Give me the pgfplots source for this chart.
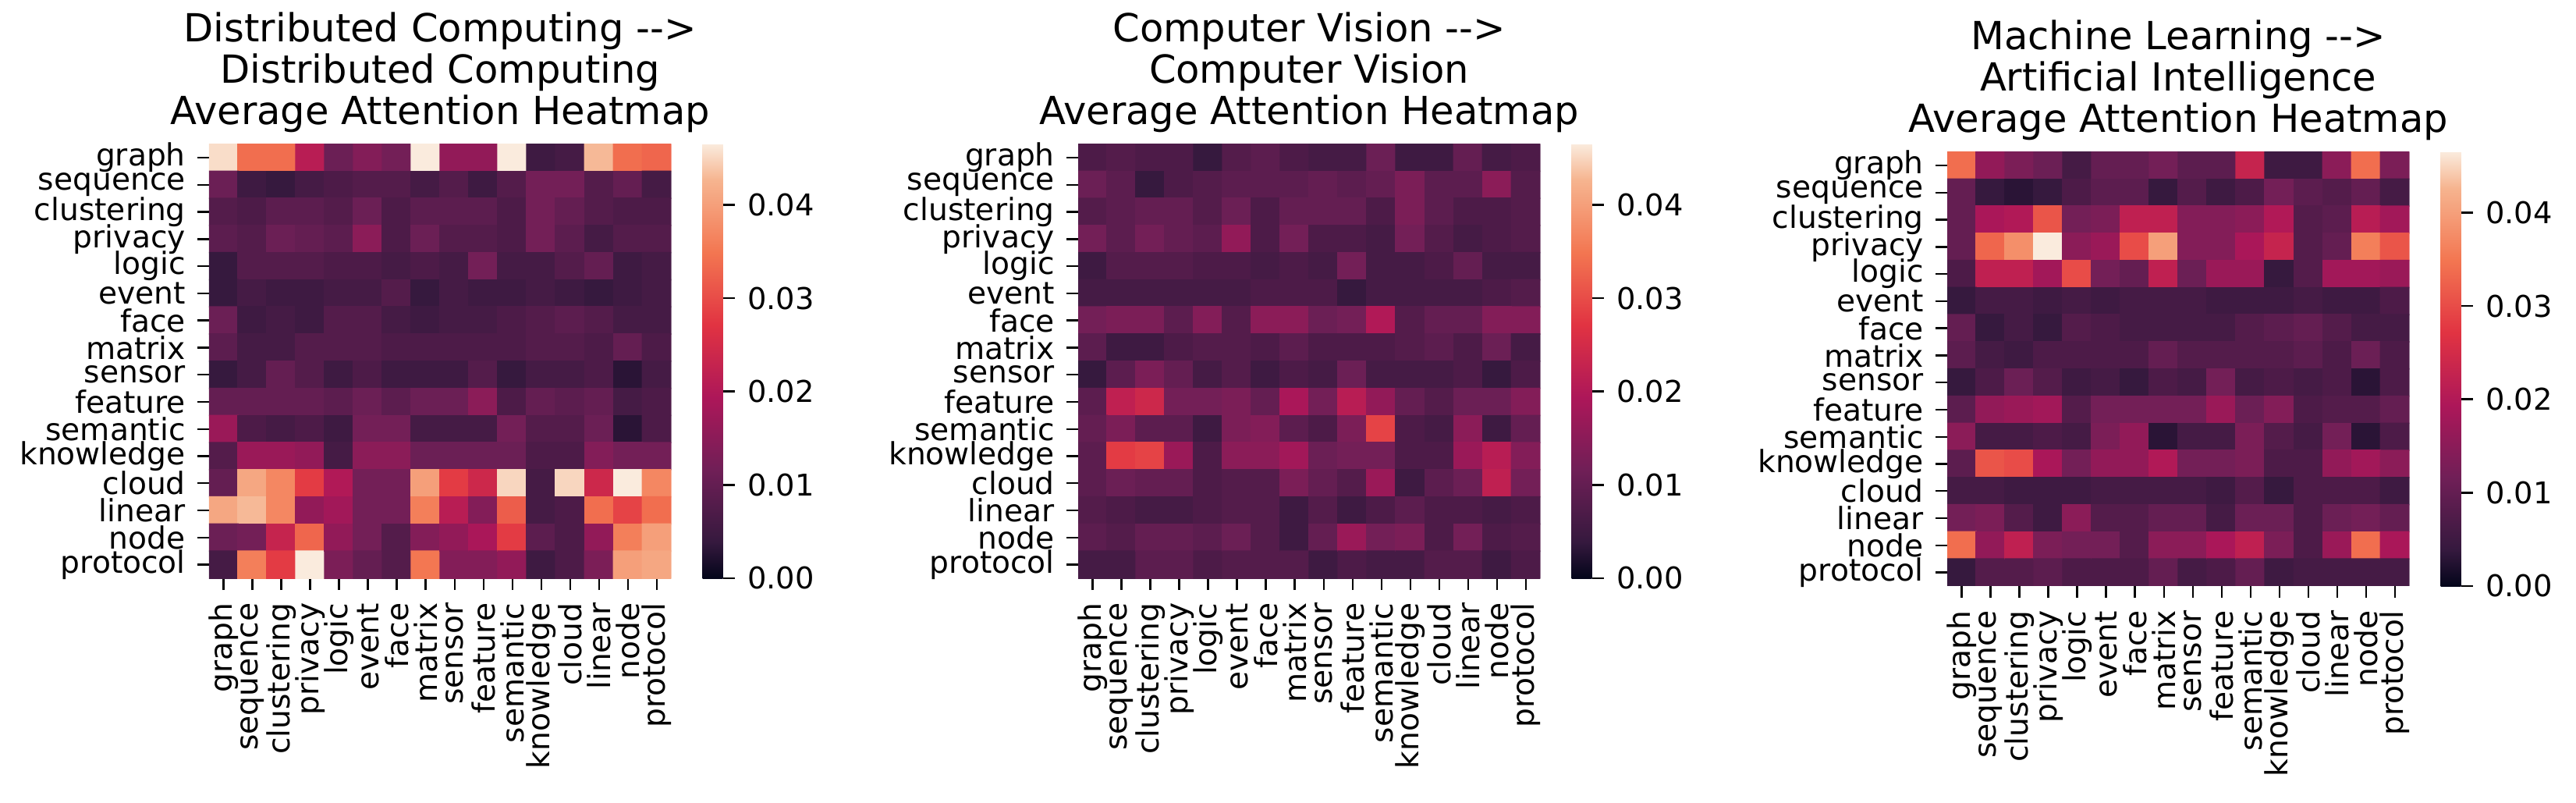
\documentclass[border=0pt]{standalone}
\usepackage{fontspec}
\setmainfont{DejaVu Sans}
\usepackage{pgfplots}
\pgfplotsset{compat=1.18}
\pgfplotsset{
  colormap={rocket}{rgb255(0cm)=(3,5,26); rgb255(1cm)=(53,25,62); rgb255(3cm)=(112,31,87); rgb255(5cm)=(173,23,89); rgb255(7cm)=(225,51,66); rgb255(9cm)=(243,118,81); rgb255(11cm)=(246,180,143); rgb255(12cm)=(250,235,221)},
  hm/.style={
    scale only axis, width=148.1pt, height=139.1pt, anchor=south west,
    xmin=-0.5, xmax=15.5, ymin=-0.5, ymax=15.5,
    axis line style={draw=none},
    tick align=outside, xtick pos=lower, ytick pos=left,
    major tick length=3.75pt,
    tick style={black, line width=0.6pt},
    xtick={0,...,15}, ytick={0,...,15},
    xticklabels={graph,sequence,clustering,privacy,logic,event,face,matrix,sensor,feature,semantic,knowledge,cloud,linear,node,protocol},
    yticklabels={protocol,node,linear,cloud,knowledge,semantic,feature,sensor,matrix,face,event,logic,privacy,clustering,sequence,graph},
    tick label style={font=\fontsize{9.8}{10}\selectfont},
    x tick label style={rotate=90, anchor=east, inner xsep=4pt},
    y tick label style={inner xsep=3.6pt},
    colormap name=rocket,
    point meta min=0, point meta max=0.0465,
    title style={align=center, font=\fontsize{12.4}{13.2}\selectfont, yshift=-5.8pt},
    colorbar,
    colorbar style={
      scale only axis, width=6.5pt, height=139.1pt,
      at={(parent axis.north east)}, anchor=north west, xshift=1.5pt,
      axis line style={draw=none},
      ytick={0,0.01,0.02,0.03,0.04},
      scaled y ticks=false,
      tick align=outside, ytick pos=right, yticklabel pos=right,
      major tick length=3.75pt,
      tick style={black, line width=0.6pt},
      yticklabel style={inner xsep=4pt, font=\fontsize{9.6}{10}\selectfont, /pgf/number format/fixed, /pgf/number format/fixed zerofill, /pgf/number format/precision=2, /pgf/number format/assume math mode=true},
    },
  },
  hmdata/.style={matrix plot*, mesh/cols=16, mesh/ordering=x varies, point meta=\thisrowno{0},
    table/header=false, table/row sep=\\, table/x expr={mod(\coordindex,16)}, table/y expr={15-floor((\coordindex+0.5)/16)}},
}
\begin{document}
\begin{tikzpicture}
\path[use as bounding box] (0,0) rectangle (825.5pt,257.25pt);
\begin{axis}[hm, at={(67pt,72pt)}, title={Distributed Computing -{}->\\Distributed Computing\\Average Attention Heatmap}]
\addplot[hmdata] table {
0.0455\\0.034\\0.034\\0.021\\0.011\\0.014\\0.012\\0.0465\\0.016\\0.016\\0.0465\\0.005\\0.006\\0.043\\0.034\\0.033\\
0.011\\0.005\\0.004\\0.006\\0.007\\0.008\\0.008\\0.006\\0.008\\0.005\\0.008\\0.012\\0.012\\0.008\\0.010\\0.006\\
0.008\\0.007\\0.009\\0.009\\0.008\\0.011\\0.007\\0.009\\0.009\\0.009\\0.007\\0.012\\0.010\\0.008\\0.007\\0.007\\
0.009\\0.008\\0.011\\0.010\\0.009\\0.015\\0.007\\0.011\\0.008\\0.008\\0.007\\0.012\\0.009\\0.006\\0.008\\0.008\\
0.004\\0.008\\0.008\\0.008\\0.007\\0.007\\0.006\\0.007\\0.006\\0.012\\0.006\\0.006\\0.008\\0.010\\0.005\\0.006\\
0.004\\0.006\\0.005\\0.005\\0.006\\0.006\\0.008\\0.004\\0.006\\0.005\\0.005\\0.006\\0.005\\0.004\\0.005\\0.006\\
0.011\\0.005\\0.006\\0.005\\0.008\\0.008\\0.006\\0.005\\0.006\\0.006\\0.007\\0.008\\0.009\\0.008\\0.006\\0.006\\
0.009\\0.006\\0.006\\0.008\\0.008\\0.008\\0.007\\0.007\\0.007\\0.007\\0.007\\0.008\\0.008\\0.007\\0.010\\0.007\\
0.004\\0.006\\0.010\\0.008\\0.005\\0.007\\0.005\\0.005\\0.005\\0.008\\0.004\\0.006\\0.006\\0.007\\0.003\\0.006\\
0.010\\0.010\\0.010\\0.010\\0.009\\0.011\\0.009\\0.011\\0.011\\0.015\\0.007\\0.010\\0.009\\0.010\\0.006\\0.007\\
0.017\\0.007\\0.006\\0.007\\0.005\\0.012\\0.012\\0.006\\0.006\\0.006\\0.012\\0.008\\0.008\\0.011\\0.003\\0.007\\
0.008\\0.017\\0.017\\0.016\\0.006\\0.015\\0.015\\0.011\\0.011\\0.011\\0.011\\0.007\\0.007\\0.014\\0.012\\0.012\\
0.010\\0.041\\0.037\\0.028\\0.020\\0.012\\0.012\\0.040\\0.028\\0.024\\0.045\\0.006\\0.045\\0.024\\0.0465\\0.037\\
0.041\\0.043\\0.037\\0.016\\0.018\\0.012\\0.012\\0.036\\0.021\\0.014\\0.032\\0.006\\0.007\\0.034\\0.029\\0.034\\
0.011\\0.012\\0.023\\0.033\\0.016\\0.012\\0.008\\0.014\\0.016\\0.019\\0.028\\0.009\\0.007\\0.016\\0.036\\0.040\\
0.006\\0.036\\0.028\\0.0465\\0.013\\0.010\\0.008\\0.035\\0.014\\0.014\\0.016\\0.005\\0.007\\0.013\\0.040\\0.041\\
};
\end{axis}
\begin{axis}[hm, at={(345.5pt,72pt)}, title={Computer Vision -{}->\\Computer Vision\\Average Attention Heatmap}]
\addplot[hmdata] table {
0.007\\0.008\\0.007\\0.007\\0.004\\0.008\\0.009\\0.007\\0.006\\0.006\\0.011\\0.005\\0.005\\0.010\\0.006\\0.007\\
0.011\\0.009\\0.004\\0.007\\0.008\\0.009\\0.009\\0.009\\0.010\\0.009\\0.010\\0.013\\0.009\\0.009\\0.015\\0.008\\
0.008\\0.009\\0.010\\0.010\\0.008\\0.011\\0.007\\0.010\\0.010\\0.010\\0.007\\0.013\\0.009\\0.007\\0.007\\0.008\\
0.012\\0.009\\0.012\\0.010\\0.009\\0.016\\0.007\\0.012\\0.007\\0.007\\0.006\\0.012\\0.008\\0.006\\0.007\\0.008\\
0.005\\0.008\\0.008\\0.008\\0.007\\0.007\\0.006\\0.007\\0.006\\0.012\\0.006\\0.006\\0.007\\0.010\\0.006\\0.006\\
0.006\\0.006\\0.006\\0.006\\0.006\\0.006\\0.007\\0.007\\0.007\\0.004\\0.006\\0.006\\0.006\\0.006\\0.007\\0.008\\
0.012\\0.013\\0.013\\0.009\\0.014\\0.008\\0.015\\0.015\\0.011\\0.012\\0.020\\0.008\\0.010\\0.010\\0.014\\0.014\\
0.009\\0.005\\0.005\\0.007\\0.008\\0.008\\0.007\\0.009\\0.007\\0.007\\0.007\\0.008\\0.009\\0.007\\0.011\\0.006\\
0.004\\0.009\\0.013\\0.010\\0.006\\0.008\\0.005\\0.007\\0.006\\0.011\\0.006\\0.006\\0.006\\0.007\\0.004\\0.007\\
0.009\\0.022\\0.024\\0.012\\0.012\\0.013\\0.010\\0.019\\0.012\\0.021\\0.016\\0.010\\0.008\\0.011\\0.011\\0.014\\
0.010\\0.013\\0.009\\0.009\\0.005\\0.013\\0.014\\0.009\\0.007\\0.013\\0.029\\0.007\\0.006\\0.015\\0.005\\0.010\\
0.009\\0.028\\0.029\\0.017\\0.007\\0.015\\0.015\\0.018\\0.011\\0.012\\0.012\\0.007\\0.007\\0.017\\0.021\\0.014\\
0.009\\0.011\\0.010\\0.010\\0.007\\0.008\\0.008\\0.013\\0.010\\0.008\\0.017\\0.005\\0.009\\0.011\\0.022\\0.012\\
0.008\\0.007\\0.006\\0.006\\0.007\\0.008\\0.008\\0.005\\0.008\\0.005\\0.007\\0.009\\0.007\\0.007\\0.006\\0.007\\
0.009\\0.008\\0.010\\0.010\\0.009\\0.011\\0.008\\0.005\\0.010\\0.017\\0.012\\0.013\\0.007\\0.012\\0.007\\0.008\\
0.006\\0.006\\0.009\\0.009\\0.007\\0.008\\0.008\\0.008\\0.005\\0.007\\0.006\\0.006\\0.008\\0.008\\0.005\\0.007\\
};
\end{axis}
\begin{axis}[hm, at={(624pt,69.5pt)}, title={Machine Learning -{}->\\Artificial Intelligence\\Average Attention Heatmap}]
\addplot[hmdata] table {
0.034\\0.016\\0.013\\0.011\\0.006\\0.010\\0.010\\0.012\\0.009\\0.009\\0.023\\0.005\\0.005\\0.015\\0.034\\0.013\\
0.010\\0.004\\0.003\\0.004\\0.007\\0.009\\0.009\\0.004\\0.008\\0.005\\0.007\\0.012\\0.009\\0.008\\0.010\\0.006\\
0.010\\0.019\\0.020\\0.031\\0.012\\0.013\\0.022\\0.022\\0.014\\0.014\\0.015\\0.020\\0.008\\0.009\\0.021\\0.018\\
0.010\\0.033\\0.038\\0.0465\\0.015\\0.017\\0.030\\0.040\\0.014\\0.014\\0.019\\0.023\\0.008\\0.010\\0.036\\0.031\\
0.007\\0.022\\0.022\\0.018\\0.030\\0.012\\0.010\\0.022\\0.011\\0.017\\0.017\\0.004\\0.008\\0.018\\0.018\\0.017\\
0.004\\0.006\\0.006\\0.005\\0.006\\0.005\\0.006\\0.006\\0.006\\0.005\\0.005\\0.005\\0.006\\0.005\\0.005\\0.007\\
0.010\\0.004\\0.006\\0.004\\0.008\\0.007\\0.006\\0.006\\0.006\\0.006\\0.008\\0.009\\0.010\\0.008\\0.006\\0.006\\
0.009\\0.006\\0.005\\0.007\\0.007\\0.007\\0.007\\0.010\\0.008\\0.008\\0.008\\0.008\\0.009\\0.007\\0.011\\0.007\\
0.004\\0.007\\0.011\\0.008\\0.005\\0.006\\0.004\\0.007\\0.006\\0.012\\0.006\\0.007\\0.006\\0.007\\0.003\\0.007\\
0.009\\0.016\\0.017\\0.018\\0.008\\0.012\\0.012\\0.012\\0.012\\0.017\\0.011\\0.014\\0.007\\0.008\\0.008\\0.010\\
0.015\\0.006\\0.006\\0.007\\0.006\\0.013\\0.016\\0.003\\0.006\\0.006\\0.013\\0.008\\0.006\\0.012\\0.003\\0.007\\
0.009\\0.031\\0.030\\0.019\\0.012\\0.016\\0.016\\0.020\\0.012\\0.012\\0.013\\0.007\\0.007\\0.016\\0.018\\0.015\\
0.006\\0.006\\0.005\\0.005\\0.005\\0.006\\0.006\\0.006\\0.006\\0.005\\0.008\\0.004\\0.007\\0.007\\0.007\\0.005\\
0.012\\0.013\\0.008\\0.005\\0.015\\0.008\\0.008\\0.010\\0.010\\0.006\\0.011\\0.011\\0.007\\0.011\\0.012\\0.010\\
0.034\\0.016\\0.022\\0.013\\0.012\\0.012\\0.008\\0.015\\0.015\\0.019\\0.022\\0.013\\0.007\\0.017\\0.034\\0.019\\
0.004\\0.008\\0.008\\0.009\\0.007\\0.007\\0.007\\0.010\\0.006\\0.007\\0.010\\0.005\\0.006\\0.006\\0.006\\0.006\\
};
\end{axis}
\end{tikzpicture}
\end{document}
